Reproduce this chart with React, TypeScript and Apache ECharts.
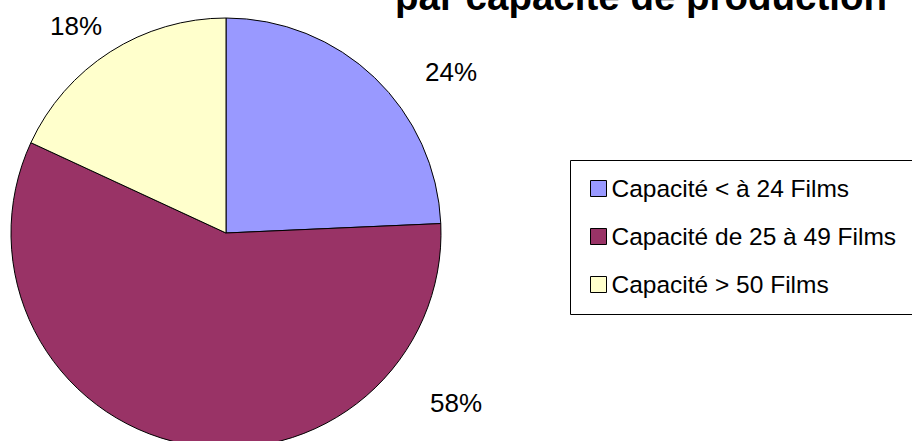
import React, { useEffect, useRef } from "react";
import * as echarts from "echarts";

const categories = ["Capacité < à 24 Films", "Capacité de 25 à 49 Films", "Capacité > 50 Films"];
const values = [24.3, 57.6, 18.1];
const colors = ["#9999FF", "#993366", "#FFFFCC"];
const titleText = "par capacité de production";
const labelPositions = [
  [451, 72],
  [456, 403],
  [76, 26],
];

export default function App() {
  const ref = useRef<HTMLDivElement>(null);
  useEffect(() => {
    if (!ref.current) return;
    const chart = echarts.init(ref.current, null, { renderer: "svg" });
    chart.setOption({
      animation: false,
      backgroundColor: "#ffffff",
      title: {
        text: titleText,
        left: 390,
        top: -28,
        textStyle: {
          fontFamily: "Arial, 'Liberation Sans', sans-serif",
          fontSize: 38.5,
          fontWeight: "bold",
          color: "#000",
        },
      },
      graphic: [
        {
          type: "rect",
          shape: { x: 570.5, y: 160.5, width: 400, height: 154 },
          style: { fill: "#fff", stroke: "#000", lineWidth: 1 },
          z: -1,
        },
      ],
      legend: {
        orient: "vertical",
        left: 590,
        top: 176,
        itemWidth: 16,
        itemHeight: 16,
        itemGap: 23,
        icon: "rect",
        padding: 0,
        textStyle: {
          fontFamily: "Arial, 'Liberation Sans', sans-serif",
          fontSize: 24.5,
          lineHeight: 24,
          color: "#000",
        },
        itemStyle: { borderColor: "#000", borderWidth: 1 },
        data: categories,
      },
      series: [
        {
          type: "pie",
          center: [226, 233],
          radius: 215,
          startAngle: 90,
          clockwise: true,
          itemStyle: { borderColor: "#000", borderWidth: 1 },
          emphasis: { disabled: true },
          labelLine: { show: false },
          label: {
            show: true,
            position: "outside",
            formatter: (p: any) => Math.round(p.percent) + "%",
            fontFamily: "Arial, 'Liberation Sans', sans-serif",
            fontSize: 26,
            color: "#000",
          },
          labelLayout: (params: any) => {
            const pos = labelPositions[params.dataIndex];
            return { x: pos[0], y: pos[1], align: "center", verticalAlign: "middle" };
          },
          data: categories.map((name, i) => ({
            name,
            value: values[i],
            itemStyle: { color: colors[i] },
          })),
        },
      ],
    });
    return () => chart.dispose();
  }, []);
  return (
    <div
      ref={ref}
      style={{ position: "fixed", left: 0, top: 0, width: 912, height: 441 }}
    />
  );
}
